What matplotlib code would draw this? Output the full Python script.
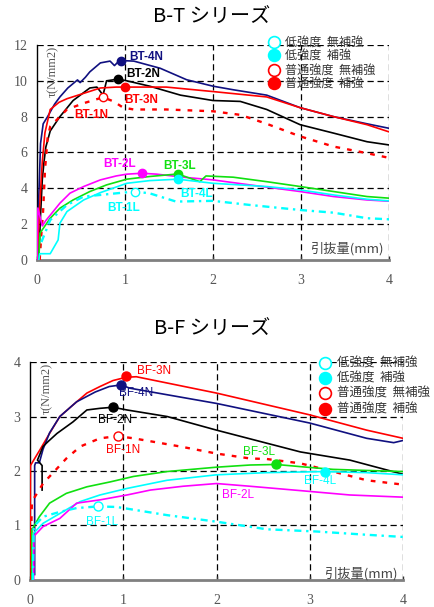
import matplotlib
matplotlib.use("Agg")
import matplotlib.pyplot as plt
from matplotlib.lines import Line2D

plt.rcParams['font.family'] = ['Noto Sans CJK JP', 'DejaVu Sans']

NAVY = '#101080'
RED = '#ff0000'
BLACK = '#000000'
CYAN = '#00ffff'
GREEN = '#10e010'
MAG = '#ff00ff'

# ---------------- B-T series data ----------------
bt4n_x = [0, 0.02, 0.04, 0.07, 0.12, 0.2, 0.26, 0.35, 0.46, 0.49, 0.55, 0.6, 0.72, 0.83, 0.88, 0.92, 0.955, 1.1, 1.4, 1.7, 2.0, 2.23, 2.61, 2.99, 3.37, 3.75, 4.0]
bt4n_y = [0, 3.5, 6.5, 7.6, 8.0, 8.7, 9.1, 9.6, 10.05, 9.9, 10.2, 10.5, 11.0, 11.1, 10.85, 11.05, 11.13, 11.1, 10.7, 10.06, 9.7, 9.5, 9.2, 8.5, 8.0, 7.6, 7.35]
bt3n_x = [0, 0.03, 0.06, 0.09, 0.15, 0.25, 0.34, 0.53, 0.72, 0.9, 1.0, 1.47, 2.0, 2.61, 2.99, 3.37, 3.75, 4.0]
bt3n_y = [0, 3.0, 5.5, 7.1, 8.4, 8.8, 9.0, 9.3, 9.6, 9.65, 9.65, 9.65, 9.4, 9.1, 8.5, 8.0, 7.55, 7.15]
bt2n_x = [0.02, 0.04, 0.06, 0.08, 0.1, 0.15, 0.26, 0.41, 0.6, 0.68, 0.72, 0.75, 0.79, 0.86, 0.92, 1.02, 1.28, 1.63, 2.0, 2.31, 2.61, 2.99, 3.37, 3.75, 4.0]
bt2n_y = [0, 2.5, 4.5, 5.5, 6.3, 7.2, 8.0, 8.9, 9.6, 9.65, 9.4, 9.2, 10.0, 10.05, 10.1, 10.0, 9.7, 9.2, 8.9, 8.85, 8.4, 7.55, 7.08, 6.6, 6.42]
bt1n_x = [0.03, 0.05, 0.07, 0.09, 0.12, 0.15, 0.34, 0.53, 0.75, 0.87, 0.98, 1.1, 1.47, 2.0, 2.31, 2.61, 2.99, 3.37, 3.75, 4.0]
bt1n_y = [0, 1.5, 2.8, 5.0, 6.8, 7.45, 8.4, 8.75, 9.08, 8.85, 8.5, 8.4, 8.4, 8.3, 8.1, 7.6, 6.9, 6.33, 5.96, 5.7]
bt2l_x = [0, 0.01, 0.06, 0.1, 0.15, 0.26, 0.375, 0.53, 0.72, 0.9, 1.02, 1.19, 1.36, 1.66, 2.0, 2.42, 2.99, 3.37, 3.75, 4.0]
bt2l_y = [0, 2.9, 1.9, 2.2, 2.5, 3.17, 3.73, 4.1, 4.47, 4.69, 4.79, 4.84, 4.79, 4.62, 4.47, 4.19, 3.82, 3.54, 3.35, 3.28]
bt3l_x = [0.02, 0.034, 0.15, 0.26, 0.41, 0.6, 0.79, 1.02, 1.28, 1.6, 1.85, 1.92, 2.23, 2.61, 2.99, 3.37, 3.75, 4.0]
bt3l_y = [0, 1.5, 2.33, 2.89, 3.35, 3.82, 4.19, 4.51, 4.66, 4.8, 4.37, 4.69, 4.62, 4.37, 4.1, 3.82, 3.54, 3.45]
bt4l_x = [0.02, 0.03, 0.15, 0.24, 0.26, 0.34, 0.53, 0.72, 1.02, 1.28, 1.6, 2.0, 2.61, 2.99, 3.37, 3.75, 4.0]
bt4l_y = [0, 0.35, 0.35, 1.12, 2.05, 2.7, 3.35, 3.76, 4.28, 4.43, 4.51, 4.28, 4.1, 3.91, 3.63, 3.39, 3.3]
bt1l_x = [0.05, 0.15, 0.34, 0.53, 0.72, 0.9, 1.11, 1.28, 1.58, 2.0, 2.42, 2.99, 3.37, 3.75, 4.0]
bt1l_y = [1.0, 2.23, 3.07, 3.54, 3.63, 3.72, 3.82, 3.72, 3.26, 3.3, 3.07, 2.79, 2.64, 2.33, 2.27]

# peaks (marker positions)
bt_peak_x = [0.955, 0.92, 1.0, 0.75, 1.19, 1.6, 1.6, 1.11]
bt_peak_y = [11.13, 10.1, 9.65, 9.08, 4.84, 4.8, 4.51, 3.82]
bt_names = ['BT-4N', 'BT-2N', 'BT-3N', 'BT-1N', 'BT-2L', 'BT-3L', 'BT-4L', 'BT-1L']
bt_label_x = [1.045, 1.01, 0.99, 0.42, 0.75, 1.44, 1.625, 0.795]
bt_label_y = [11.34, 10.39, 8.94, 8.1, 5.36, 5.25, 3.69, 2.9]

# ---------------- B-F series data ----------------
bf3n_x = [0, 0.005, 0.04, 0.107, 0.21, 0.32, 0.46, 0.61, 0.75, 0.89, 1.03, 1.14, 2.0, 3.0, 3.61, 4.0]
bf3n_y = [0, 2.1, 2.2, 2.39, 2.69, 3.0, 3.21, 3.43, 3.55, 3.66, 3.72, 3.73, 3.43, 3.03, 2.75, 2.6]
bf4n_x = [0.05, 0.05, 0.06, 0.1, 0.14, 0.21, 0.32, 0.5, 0.7, 0.85, 0.976, 1.07, 2.0, 3.0, 3.61, 3.9, 4.0]
bf4n_y = [0.1, 2.1, 2.15, 2.15, 2.4, 2.7, 3.0, 3.27, 3.45, 3.55, 3.58, 3.52, 3.24, 2.88, 2.6, 2.52, 2.56]
bf2n_x = [0.13, 0.13, 0.08, 0.14, 0.2, 0.29, 0.46, 0.61, 0.75, 0.89, 1.04, 1.47, 2.0, 2.9, 3.43, 4.0]
bf2n_y = [1.65, 2.1, 2.2, 2.45, 2.55, 2.69, 2.9, 3.12, 3.15, 3.17, 3.12, 3.0, 2.75, 2.35, 2.2, 1.94]
bf1n_x = [0.0, 0.02, 0.05, 0.14, 0.39, 0.54, 0.75, 0.94, 1.11, 1.61, 2.0, 2.36, 2.54, 2.9, 3.25, 3.61, 4.0]
bf1n_y = [0, 1.4, 1.52, 1.77, 2.23, 2.45, 2.6, 2.64, 2.6, 2.45, 2.32, 2.23, 2.22, 2.14, 1.99, 1.83, 1.75]
bf3l_x = [0.02, 0.02, 0.1, 0.21, 0.39, 0.61, 0.86, 1.11, 1.47, 2.0, 2.36, 2.64, 2.9, 3.25, 3.61, 4.0]
bf3l_y = [0, 0.92, 1.16, 1.41, 1.59, 1.71, 1.8, 1.9, 1.99, 2.07, 2.11, 2.12, 2.08, 2.03, 2.01, 1.99]
bf4l_x = [0.03, 0.04, 0.14, 0.32, 0.54, 0.75, 1.04, 1.47, 2.0, 2.54, 3.16, 3.61, 4.0]
bf4l_y = [0, 0.86, 1.04, 1.22, 1.44, 1.56, 1.68, 1.83, 1.93, 1.97, 1.99, 1.97, 1.93]
bf2l_x = [0.04, 0.04, 0.14, 0.32, 0.5, 0.75, 1.04, 1.29, 1.64, 2.0, 2.36, 2.9, 3.43, 4.0]
bf2l_y = [0, 0.8, 0.98, 1.13, 1.41, 1.47, 1.56, 1.65, 1.72, 1.77, 1.72, 1.64, 1.56, 1.52]
bf1l_x = [0.03, 0.04, 0.14, 0.32, 0.5, 0.73, 0.93, 1.47, 2.0, 2.54, 3.07, 3.61, 4.0]
bf1l_y = [0, 0.98, 1.16, 1.25, 1.32, 1.35, 1.34, 1.19, 1.07, 0.93, 0.89, 0.83, 0.79]

bf_peak_x = [1.03, 0.976, 0.89, 0.94, 2.64, 3.16, None, 0.73]
bf_peak_y = [3.75, 3.58, 3.17, 2.64, 2.12, 1.99, None, 1.35]
bf_names = ['BF-3N', 'BF-4N', 'BF-2N', 'BF-1N', 'BF-3L', 'BF-4L', 'BF-2L', 'BF-1L']
bf_label_x = [1.15, 0.955, 0.73, 0.815, 2.28, 2.94, 2.06, 0.6]
bf_label_y = [3.83, 3.43, 2.94, 2.39, 2.35, 1.82, 1.56, 1.06]

legend_labels = ['低強度  無補強', '低強度  補強', '普通強度  無補強', '普通強度  補強']

DOT = (0, (2, 3))
DASHDOT = (0, (3, 2, 1, 2))

bt_series = [
    (bt4n_x, bt4n_y, NAVY, '-', True),
    (bt2n_x, bt2n_y, BLACK, '-', True),
    (bt3n_x, bt3n_y, RED, '-', True),
    (bt1n_x, bt1n_y, RED, DOT, False),
    (bt2l_x, bt2l_y, MAG, '-', True),
    (bt3l_x, bt3l_y, GREEN, '-', True),
    (bt4l_x, bt4l_y, CYAN, '-', True),
    (bt1l_x, bt1l_y, CYAN, DASHDOT, False),
]
bf_series = [
    (bf3n_x, bf3n_y, RED, '-', True),
    (bf4n_x, bf4n_y, NAVY, '-', True),
    (bf2n_x, bf2n_y, BLACK, '-', True),
    (bf1n_x, bf1n_y, RED, DOT, False),
    (bf3l_x, bf3l_y, GREEN, '-', True),
    (bf4l_x, bf4l_y, CYAN, '-', True),
    (bf2l_x, bf2l_y, MAG, '-', True),
    (bf1l_x, bf1l_y, CYAN, DASHDOT, False),
]

fig = plt.figure(figsize=(4.34, 6.07), dpi=100)

SERIF = 'Liberation Serif'
TICKC = '#555555'


def setup(ax, ymax, ystep, ylab_x, xlab_y):
    ax.set_xlim(0, 4)
    ax.set_ylim(0, ymax)
    ax.set_xticks([0, 1, 2, 3, 4])
    ax.set_yticks(list(range(0, ymax + 1, ystep)))
    for sp in ['top', 'right']:
        ax.spines[sp].set_visible(False)
    ax.spines['left'].set_color('black')
    ax.spines['left'].set_linewidth(1.0)
    ax.spines['bottom'].set_color('#808080')
    ax.spines['bottom'].set_linewidth(2.0)
    ax.tick_params(axis='x', direction='in', length=3, width=1, color='#333333',
                   pad=10, labelsize=10, labelcolor=TICKC)
    ax.tick_params(axis='y', length=0, pad=7, labelsize=10, labelcolor=TICKC)
    for lab in ax.get_xticklabels() + ax.get_yticklabels():
        lab.set_family(SERIF)
    for v in ax.get_xticks()[1:]:
        ax.axvline(v, color='black', lw=0.9, ls=(0, (5, 3)), zorder=1)
    for v in ax.get_yticks()[1:]:
        ax.axhline(v, color='black', lw=0.9, ls=(0, (5, 3)), zorder=1)
    ax.text(ylab_x, 0.995, 'τ(N/mm2)', transform=ax.transAxes, rotation=90,
            ha='center', va='top', fontsize=9, family=SERIF, color='#555555')
    ax.text(0.985, xlab_y, '引抜量(mm)', transform=ax.transAxes, ha='right',
            va='center', fontsize=9.5, color='#444444')


def legend(ax, mx, tx, rows, fs):
    specs = [(CYAN, 'none'), (CYAN, CYAN), (RED, 'none'), (RED, RED)]
    for (ec, fc), ry, lab in zip(specs, rows, legend_labels):
        ax.add_line(Line2D([mx], [ry], transform=ax.transAxes, marker='o',
                           ms=8.5, mec=ec, mfc=fc if fc != 'none' else 'white',
                           mew=1.2, clip_on=False, zorder=6))
        ax.text(tx, ry, lab, transform=ax.transAxes, ha='left', va='center',
                fontsize=fs, color='#333333', zorder=5)


def draw(ax, series, px, py, names, lx, ly, bold, ms):
    for (x, y, c, ls, filled), pxx, pyy, nm, tx, ty in zip(series, px, py, names, lx, ly):
        ax.plot(x, y, color=c, ls=ls, lw=1.2 if ls == '-' else 1.7, zorder=3)
        if pxx is not None:
            ax.plot([pxx], [pyy], marker='o', ms=ms, color=c,
                    mfc=c if filled else 'white', mec=c, mew=1.0, zorder=4)
        ax.text(tx, ty, nm, color=c, fontsize=8.5, ha='left', va='center',
                family='Liberation Sans', fontweight='bold' if bold else 'normal',
                zorder=5)


# Top chart
ax1 = fig.add_axes([0.0853, 0.5717, 0.8111, 0.3542])
setup(ax1, 12, 2, 0.045, 0.05)
draw(ax1, bt_series, bt_peak_x, bt_peak_y, bt_names, bt_label_x, bt_label_y, True, 6)
legend(ax1, 0.673, 0.705, [1.015, 0.953, 0.884, 0.823], 8.7)
fig.text(0.488, 1 - 17 / 607, 'B-T シリーズ', ha='center', va='center', fontsize=14.5)

# Bottom chart
ax2 = fig.add_axes([0.0691, 0.0445, 0.8595, 0.3591])
setup(ax2, 4, 1, 0.045, 0.03)
draw(ax2, bf_series, bf_peak_x, bf_peak_y, bf_names, bf_label_x, bf_label_y, False, 6.5)
legend(ax2, 0.791, 0.823, [0.995, 0.927, 0.858, 0.784], 9)
fig.text(0.488, 1 - 329 / 607, 'B-F シリーズ', ha='center', va='center', fontsize=14.5)

fig.savefig('out.png', dpi=100)
